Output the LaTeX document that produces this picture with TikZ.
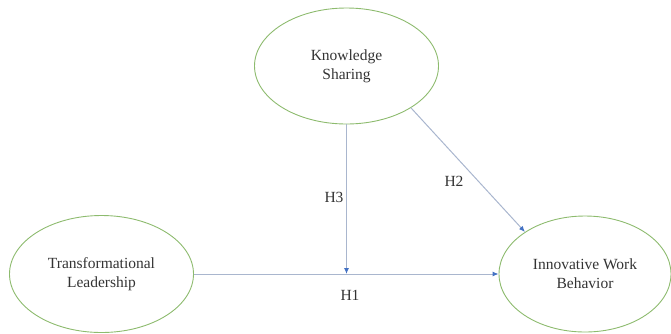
\documentclass[tikz,border=0pt]{standalone}
\usepackage{fontspec}
\setmainfont{Liberation Serif}
\usetikzlibrary{shapes.geometric,arrows.meta}
\definecolor{elgreen}{HTML}{8DBB6E}
\definecolor{lnblue}{HTML}{A9B6CE}
\definecolor{tipblue}{HTML}{4472C4}
\tikzset{
  construct/.style={ellipse, draw=elgreen, line width=0.9pt, inner sep=0pt, align=center,
    font=\fontsize{15.5}{19}\selectfont, text=black!80},
  path/.style={draw=lnblue, line width=1pt, -{Latex[length=6pt,width=5pt,color=tipblue]}},
  hlabel/.style={font=\fontsize{15.5}{19}\selectfont, text=black!80}
}
\begin{document}
\begin{tikzpicture}[x=1pt,y=-1pt]
\useasboundingbox (0,0) rectangle (671,333);
\node[construct, minimum width=184pt, minimum height=116pt] (ks) at (346.5,66) {Knowledge\\Sharing};
\node[construct, minimum width=184pt, minimum height=117pt] (tl) at (101.5,274) {Transformational\\Leadership};
\node[construct, minimum width=172pt, minimum height=116pt] (iwb) at (585,274) {Innovative Work\\Behavior};
\coordinate (meet) at (ks.south |- tl.east);
\draw[path] (tl.east) -- (iwb.west);
\draw[path] (ks.south) -- (meet);
\draw[path] (ks.-33) -- (iwb.145);
\node[hlabel] (h1) at (350,295) {H1};
\node[hlabel] (h2) at (454,181) {H2};
\node[hlabel] (h3) at (334,197) {H3};
\end{tikzpicture}
\end{document}
